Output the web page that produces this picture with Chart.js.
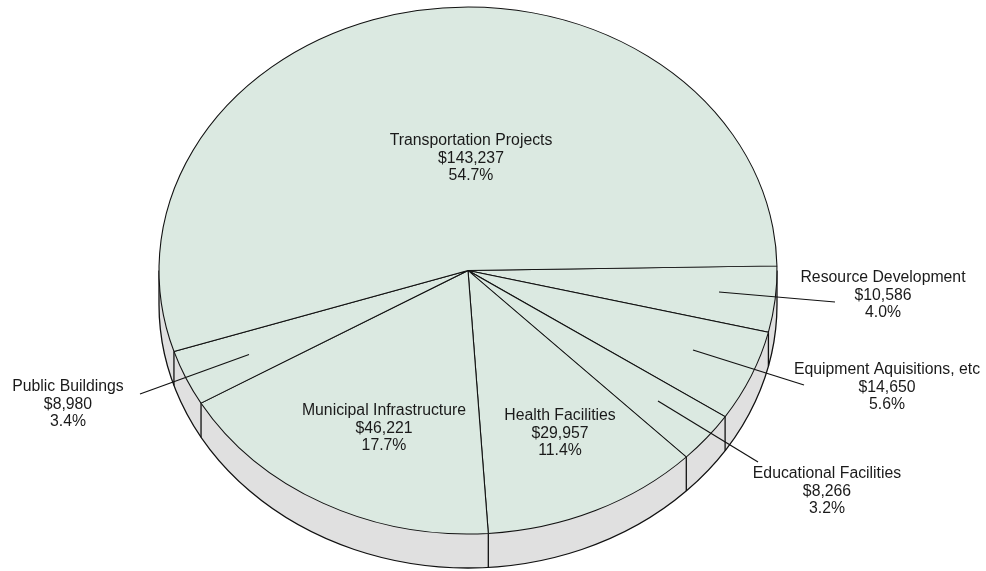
<!DOCTYPE html>
<html>
<head>
<meta charset="utf-8">
<title>Projects by category</title>
<style>
  html, body { margin: 0; padding: 0; background: #fff; overflow: hidden; }
  canvas { display: block; }
</style>
<script src="https://cdn.jsdelivr.net/npm/chart.js@4"></script>
</head>
<body>
<canvas id="pieChart" width="986" height="571"></canvas>
<script>
// Data, clockwise from the 3 o'clock line
const categories = ['Resource Development', 'Equipment Aquisitions, etc', 'Educational Facilities',
    'Health Facilities', 'Municipal Infrastructure', 'Public Buildings', 'Transportation Projects'];
const amounts = [10586, 14650, 8266, 29957, 46221, 8980, 143237];
const amountLabels = ['$10,586', '$14,650', '$8,266', '$29,957', '$46,221', '$8,980', '$143,237'];
const shareLabels = ['4.0%', '5.6%', '3.2%', '11.4%', '17.7%', '3.4%', '54.7%'];

// Layout of the flattened pie and its labels
const pie = { x: 468, y: 270.5, rx: 309, ry: 263.5, depth: 34 };
const labelCentres = [[883, 277], [887, 369], [827, 473], [560, 415], [384, 410], [68, 386], [471, 140]];
const labelLineGap = 17.8;
const leaderLines = [
    [719, 292, 835, 302],
    [693, 350, 804, 385],
    [658, 401, 758, 462],
    null,
    null,
    [249, 354.5, 140, 394],
    null
];

const faceColor = '#dbe9e1';
const wallColor = '#e0e0e0';
const lineColor = '#111111';
const textColor = '#1a1a1a';

// Squash the round pie into an ellipse and draw the side wall below it
const tiltPlugin = {
    id: 'tilt',
    beforeDatasetsDraw(chart) {
        const ctx = chart.ctx;
        const arcs = chart.getDatasetMeta(0).data;
        const R = arcs[0].outerRadius;

        ctx.save();
        ctx.beginPath();
        ctx.ellipse(pie.x, pie.y + pie.depth, pie.rx, pie.ry, 0, 0, Math.PI);
        ctx.ellipse(pie.x, pie.y, pie.rx, pie.ry, 0, Math.PI, 0, true);
        ctx.closePath();
        ctx.fillStyle = wallColor;
        ctx.fill();

        ctx.strokeStyle = lineColor;
        ctx.lineWidth = 1.3;
        ctx.beginPath();
        ctx.moveTo(pie.x + pie.rx, pie.y);
        ctx.lineTo(pie.x + pie.rx, pie.y + pie.depth);
        ctx.ellipse(pie.x, pie.y + pie.depth, pie.rx, pie.ry, 0, 0, Math.PI);
        ctx.lineTo(pie.x - pie.rx, pie.y);
        ctx.stroke();

        // slice edges carried down the wall, front half only
        arcs.forEach(function(arc) {
            const a = arc.endAngle;
            if (Math.sin(a) <= 0) return;
            const px = pie.x + pie.rx * Math.cos(a);
            const py = pie.y + pie.ry * Math.sin(a);
            ctx.beginPath();
            ctx.moveTo(px, py);
            ctx.lineTo(px, py + pie.depth);
            ctx.stroke();
        });
        ctx.restore();

        ctx.save();
        ctx.translate(pie.x, pie.y);
        ctx.scale(pie.rx / R, pie.ry / R);
        ctx.translate(-arcs[0].x, -arcs[0].y);
    },
    afterDatasetsDraw(chart) {
        chart.ctx.restore();
    },
    afterDraw(chart) {
        const ctx = chart.ctx;
        ctx.save();
        ctx.strokeStyle = lineColor;
        ctx.lineWidth = 1.2;
        leaderLines.forEach(function(l) {
            if (!l) return;
            ctx.beginPath();
            ctx.moveTo(l[0], l[1]);
            ctx.lineTo(l[2], l[3]);
            ctx.stroke();
        });

        ctx.font = '15.8px "Liberation Sans", Arial, sans-serif';
        ctx.fillStyle = textColor;
        ctx.textAlign = 'center';
        ctx.textBaseline = 'middle';
        categories.forEach(function(name, i) {
            const c = labelCentres[i];
            ctx.fillText(name, c[0], c[1] + 0.5);
            ctx.fillText(amountLabels[i], c[0], c[1] + 0.5 + labelLineGap);
            ctx.fillText(shareLabels[i], c[0], c[1] + 0.5 + labelLineGap * 2);
        });
        ctx.restore();
    }
};

new Chart(document.getElementById('pieChart').getContext('2d'), {
    type: 'pie',
    data: {
        labels: categories,
        datasets: [{
            data: amounts,
            backgroundColor: faceColor,
            borderColor: lineColor,
            borderWidth: 1
        }]
    },
    options: {
        responsive: false,
        animation: false,
        rotation: 89,
        layout: { padding: 0 },
        plugins: {
            legend: { display: false },
            tooltip: { enabled: false }
        }
    },
    plugins: [tiltPlugin]
});
</script>
</body>
</html>
